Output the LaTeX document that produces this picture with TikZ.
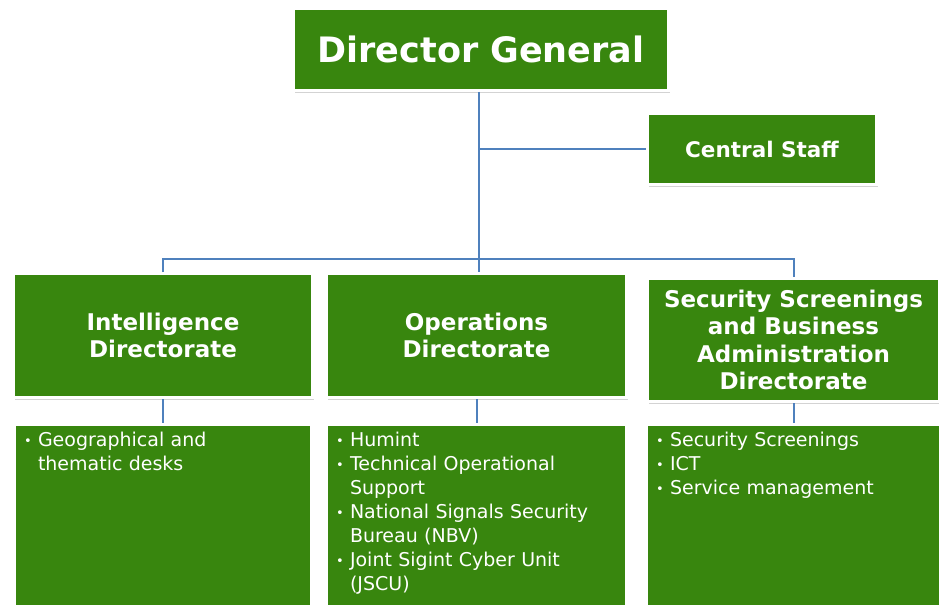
\documentclass[tikz,border=0pt]{standalone}
\usepackage{fontspec}
\setmainfont{DejaVu Sans}
\usetikzlibrary{positioning, shadows}
\definecolor{orggreen}{RGB}{56,134,14}
\definecolor{orgblue}{RGB}{79,129,189}
\newcommand{\bul}{\makebox[14pt][l]{\raisebox{1pt}{\fontsize{13}{13}\selectfont •}}}
\newcommand{\hang}{\hspace*{14pt}}

\begin{document}
\begin{tikzpicture}[x=1pt, y=1pt,
    orgbox/.style={fill=orggreen, draw=white, line width=3pt, text=white,
                   align=center, inner sep=0pt,
                   drop shadow={opacity=0.35, shadow xshift=1pt, shadow yshift=-2.5pt}},
    headbox/.style={orgbox, font=\bfseries\fontsize{23}{27.5}\selectfont},
    taskbox/.style={orgbox, align=left, inner xsep=9.5pt, inner ysep=7.5pt,
                    text width=278pt, text height=14pt, text depth=152.5pt,
                    font=\fontsize{19}{24}\selectfont},
    link/.style={draw=orgblue, line width=2pt}]
  \useasboundingbox (0,0) rectangle (939,606);

  % top of the chart
  \node[orgbox, minimum width=375pt, minimum height=82pt,
        font=\bfseries\fontsize{35}{40}\selectfont] (dg) at (481,556.5) {Director General};
  \node[orgbox, minimum width=229pt, minimum height=71pt,
        font=\bfseries\fontsize{21.5}{26}\selectfont] (cs) at (762,457) {Central Staff};

  % directorates
  \node[headbox, minimum width=299pt, minimum height=124pt] (intel) at (163,270.5)
       {Intelligence\\Directorate};
  \node[headbox, minimum width=300pt, minimum height=124pt, right=11pt of intel] (ops)
       {Operations\\Directorate};
  \node[headbox, minimum width=292pt, minimum height=123pt, right=18pt of ops, yshift=-4.5pt] (sec)
       {Security Screenings\\and Business\\Administration\\Directorate};

  % tasks
  \node[taskbox, below=24pt of intel] (intelT)
       {\bul Geographical and\\ \hang thematic desks};
  \node[taskbox, text width=281pt, below=24pt of ops] (opsT)
       {\bul Humint\\ \bul Technical Operational\\ \hang Support\\
        \bul National Signals Security\\ \hang Bureau (NBV)\\
        \bul Joint Sigint Cyber Unit\\ \hang (JSCU)};
  \node[taskbox, text width=275pt, below=20pt of sec] (secT)
       {\bul Security Screenings\\ \bul ICT\\ \bul Service management};

  \coordinate (bus) at (479,347);
  \draw[link] (bus |- dg.south) -- (bus |- ops.north);
  \draw[link] (bus |- cs.west) -- (cs.west);
  \draw[link] (intel.north) |- (bus) -| (sec.north);
  \draw[link] (intel) -- (intelT);
  \draw[link] (ops) -- (opsT);
  \draw[link] (sec) -- (secT);
\end{tikzpicture}
\end{document}
